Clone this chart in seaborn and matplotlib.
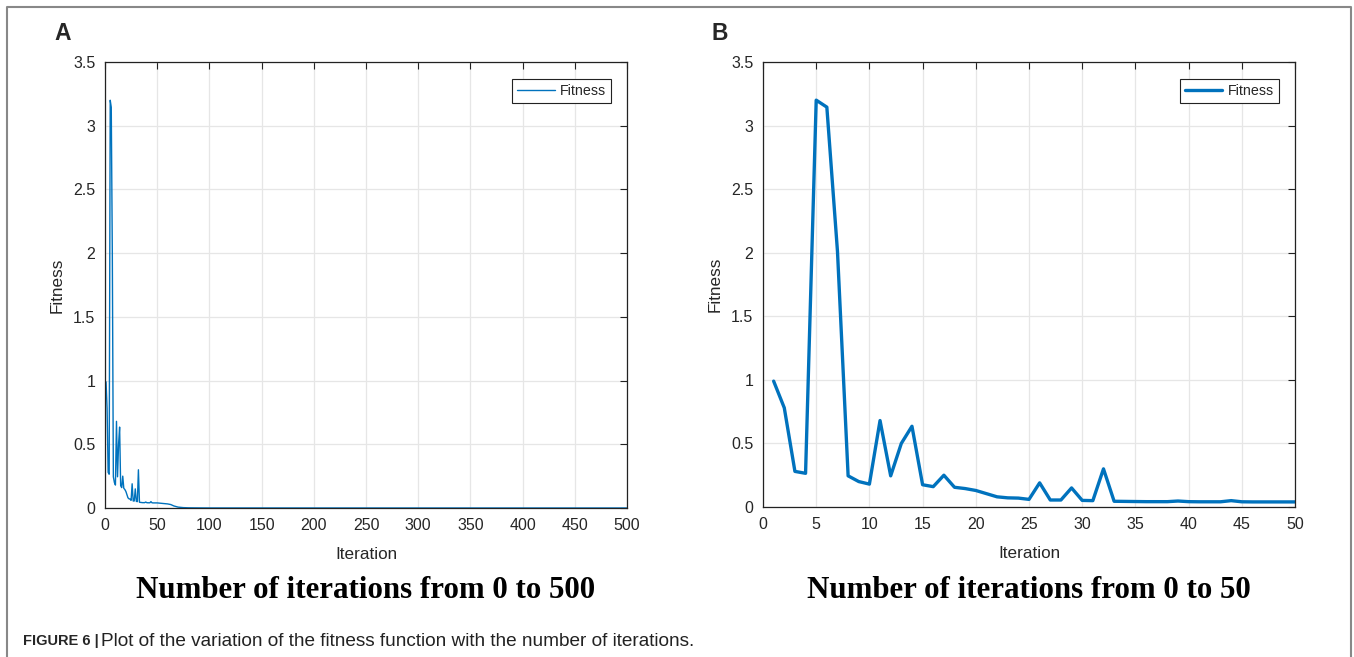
import pandas as pd
import seaborn as sns
import matplotlib.pyplot as plt
from matplotlib.lines import Line2D

# fitness for the first 50 iterations
iter_50 = list(range(1, 51))
fitness_50 = [0.99, 0.78, 0.28, 0.265, 3.20, 3.145, 2.01, 0.245, 0.20, 0.18,
              0.68, 0.245, 0.50, 0.635, 0.175, 0.16, 0.25, 0.155, 0.145, 0.13,
              0.105, 0.08, 0.072, 0.07, 0.06, 0.19, 0.055, 0.055, 0.15, 0.052,
              0.05, 0.30, 0.045, 0.044, 0.043, 0.042, 0.042, 0.042, 0.047, 0.042,
              0.041, 0.041, 0.041, 0.05, 0.041, 0.04, 0.04, 0.04, 0.04, 0.04]

# tail of the 500-iteration run (panel A)
iter_tail = [55, 60, 63, 66, 70, 75, 80, 90, 100, 200, 300, 400, 500]
fitness_tail = [0.036, 0.032, 0.027, 0.016, 0.007, 0.003, 0.0015, 0.0008, 0.0004,
                0.0002, 0.0001, 0.0001, 0.0001]

xticks_a = [0, 50, 100, 150, 200, 250, 300, 350, 400, 450, 500]
xticks_b = [0, 5, 10, 15, 20, 25, 30, 35, 40, 45, 50]
yticks = [0, 0.5, 1, 1.5, 2, 2.5, 3, 3.5]
ytick_labels = ['0', '0.5', '1', '1.5', '2', '2.5', '3', '3.5']

subtitles = ['Number of iterations from 0 to 500', 'Number of iterations from 0 to 50']
caption_bold = 'FIGURE 6 |'
caption_text = 'Plot of the variation of the fitness function with the number of iterations.'

df_a = pd.DataFrame({'Iteration': iter_50 + iter_tail, 'Fitness': fitness_50 + fitness_tail})
df_b = pd.DataFrame({'Iteration': iter_50, 'Fitness': fitness_50})

sns.set_style('white')
plt.rcParams['font.family'] = ['Liberation Sans', 'DejaVu Sans']

blue = '#0072BD'
W, H = 1354, 657
fig = plt.figure(figsize=(W / 100, H / 100), dpi=100)
ax_a = fig.add_axes([105 / W, 1 - 508 / H, 522 / W, 446 / H])
ax_b = fig.add_axes([763 / W, 1 - 507 / H, 532 / W, 445 / H])

sns.lineplot(data=df_a, x='Iteration', y='Fitness', ax=ax_a, color=blue, linewidth=1.0, legend=False)
sns.lineplot(data=df_b, x='Iteration', y='Fitness', ax=ax_b, color=blue, linewidth=2.4, legend=False)

panels = [(ax_a, xticks_a, 1.0, 'A', 63), (ax_b, xticks_b, 2.4, 'B', 720)]
for ax, xt, lw, letter, lx in panels:
    ax.set_xlim(xt[0], xt[-1])
    ax.set_ylim(0, 3.5)
    ax.set_xticks(xt)
    ax.set_yticks(yticks)
    ax.set_yticklabels(ytick_labels)
    ax.grid(True, color='#e6e6e6', linewidth=0.9)
    ax.set_axisbelow(True)
    for s in ax.spines.values():
        s.set_visible(True)
        s.set_color('#222222')
        s.set_linewidth(0.9)
    ax.tick_params(direction='in', top=True, right=True, length=5, width=0.8,
                   color='#222222', labelsize=11.5, labelcolor='#262626', pad=7)
    ax.set_xlabel('Iteration', fontsize=12.3, color='#262626', labelpad=10)
    ax.set_ylabel('Fitness', fontsize=12.3, color='#262626', labelpad=6)
    handle = Line2D([], [], color=blue, linewidth=lw)
    leg = ax.legend([handle], ['Fitness'], loc='upper right', bbox_to_anchor=(0.969, 0.962),
                    borderaxespad=0, fancybox=False, framealpha=1, edgecolor='#222222',
                    fontsize=10.3, handlelength=2.6, borderpad=0.35, handletextpad=0.35)
    leg.get_frame().set_linewidth(0.8)
    fig.text(lx / W, 1 - 33 / H, letter, fontsize=16.5, fontweight='bold', ha='center', va='center')

fig.text((105 + 627) / 2 / W, 1 - 590 / H, subtitles[0], family='Liberation Serif',
         fontsize=22.2, fontweight='bold', ha='center', va='center', color='black')
fig.text((763 + 1295) / 2 / W, 1 - 590 / H, subtitles[1], family='Liberation Serif',
         fontsize=22.2, fontweight='bold', ha='center', va='center', color='black')

fig.text(23 / W, 1 - 641 / H, caption_bold, fontsize=10.5, fontweight='bold', va='center')
fig.text(101 / W, 1 - 641 / H, caption_text, fontsize=13.7, va='center', color='#222222')

# outer frame
fig.add_artist(Line2D([7 / W, 7 / W, 1351 / W, 1351 / W], [0, 1 - 7 / H, 1 - 7 / H, 0],
                      transform=fig.transFigure, color='#888888', linewidth=1.5))

fig.savefig('out.png', dpi=100)
